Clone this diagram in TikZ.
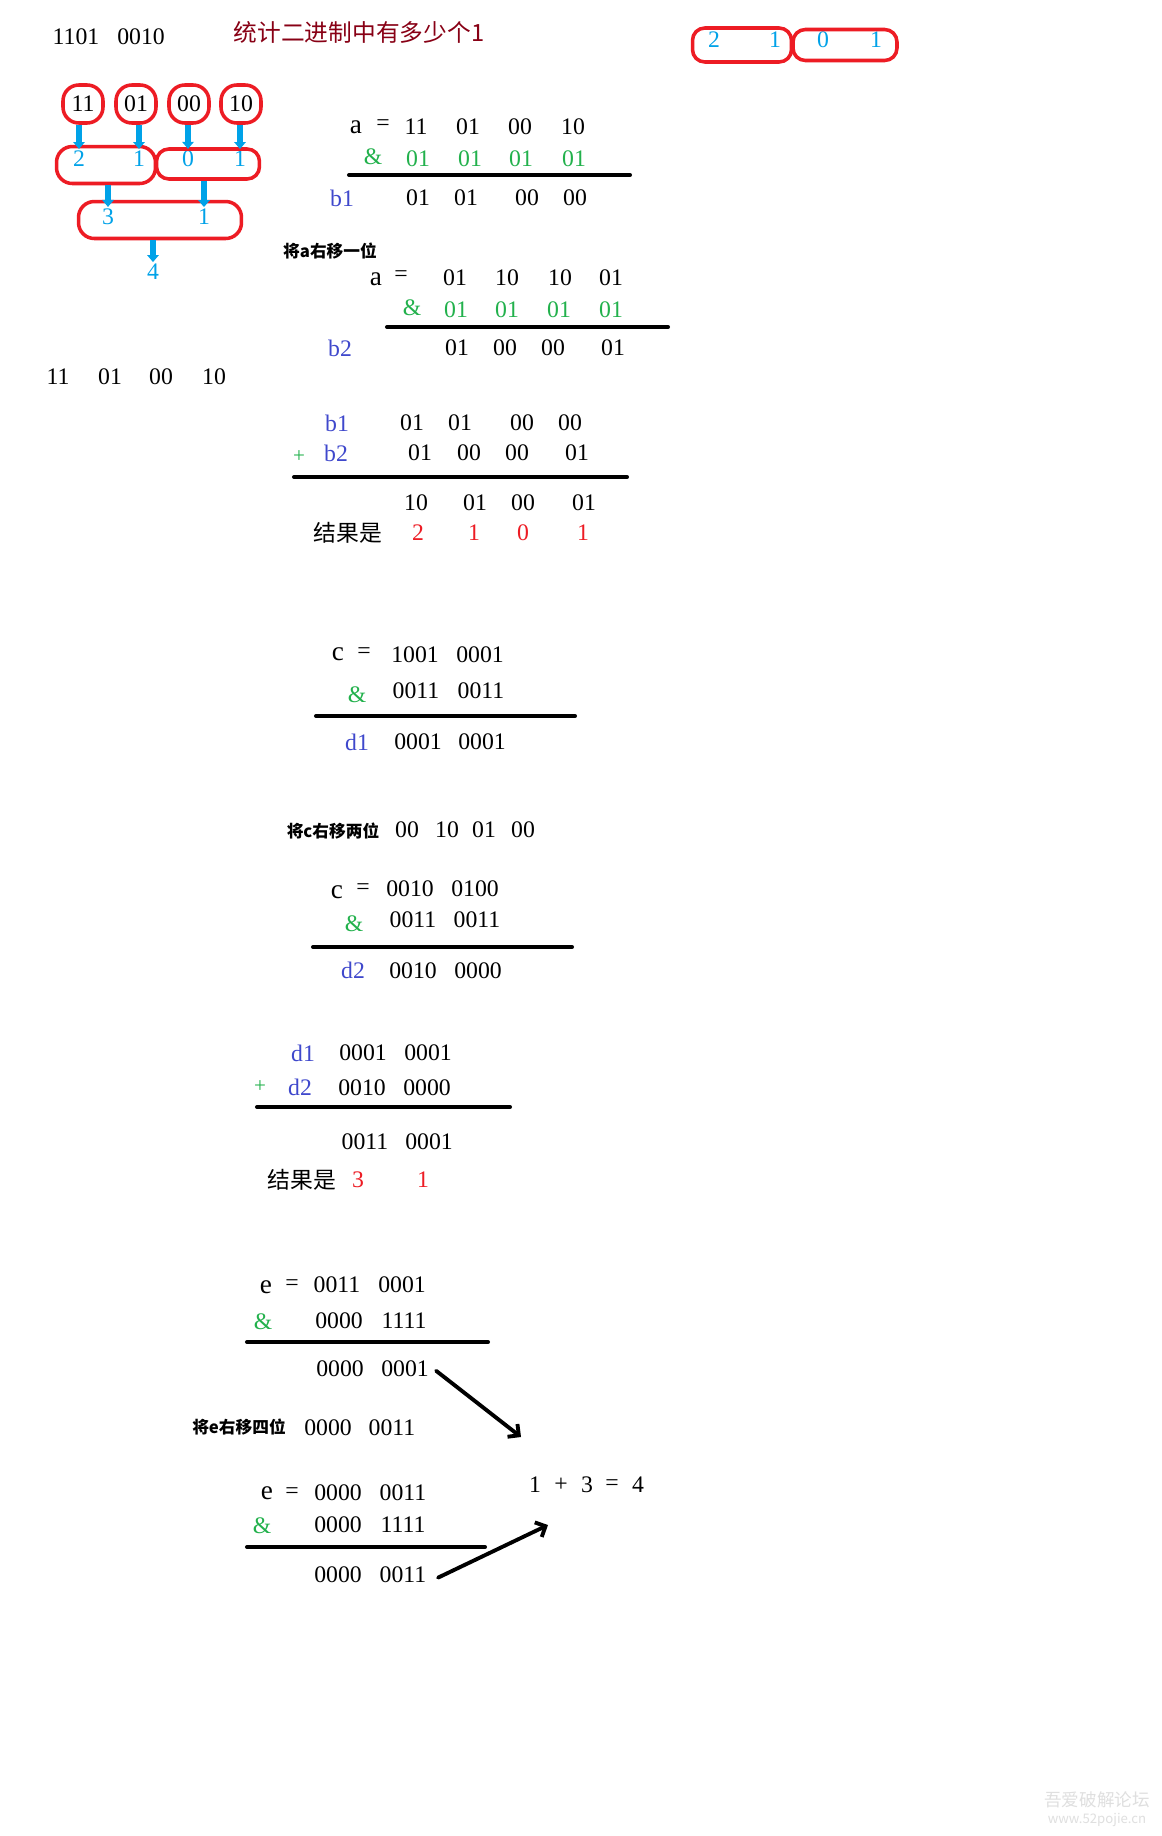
\documentclass[tikz,border=0pt]{standalone}
\usepackage{fontspec}
\setmainfont{Liberation Serif}
\newfontfamily\cjk{Noto Sans CJK SC}
\usepackage{xcolor}
\usepackage{tikz}
\usetikzlibrary{arrows.meta}

\definecolor{paintred}{RGB}{237,28,36}
\definecolor{paintblue}{RGB}{0,162,232}
\definecolor{paintgreen}{RGB}{34,177,76}
\definecolor{paintindigo}{RGB}{63,72,204}
\definecolor{paintmaroon}{RGB}{136,0,21}

\begin{document}
\begin{tikzpicture}[x=0.02cm, y=-0.02cm, every node/.style={inner sep=0pt}]
  % Styles
  \tikzset{
    num/.style={font=\fontsize{13.5}{16}\selectfont},
    letter/.style={font=\fontsize{15.5}{18}\selectfont},
    andop/.style={num, text=paintgreen},
    mask/.style={num, text=paintgreen},
    plusop/.style={text=paintgreen, font=\fontsize{12}{14}\selectfont},
    var/.style={num, text=paintindigo},
    result/.style={num, text=paintred},
    tally/.style={num, text=paintblue},
    heading/.style={font=\cjk\bfseries\fontsize{9.5}{11}\selectfont},
    zh/.style={font=\cjk\fontsize{13}{15}\selectfont},
    ring/.style={draw=paintred, line width=2pt, rounded corners=7pt},
    bar/.style={line width=2.3pt, line cap=round},
    dropline/.style={draw=paintblue, line width=3pt, -{Triangle[length=4pt,width=6.5pt]}, shorten >=1pt},
    sum/.style={line width=2.2pt, line cap=round, line join=round, -{Straight Barb[angle=90:6.5pt]}}
  }
  \fill[white] (0,0) rectangle (1162,1836);
  \useasboundingbox (0,0) rectangle (1162,1836);

  % Title
  \node[num] (top1) at (76,37) {1101};
  \node[num] (top2) at (141,37) {0010};
  \node[zh, text=paintmaroon, font=\cjk\fontsize{13.5}{16}\selectfont] (title) at (359,32) {统计二进制中有多少个1};

  % Pair tree
  \foreach \x/\txt [count=\i] in {83/11, 136/01, 189/00, 241/10}
    \node[num, ring, rounded corners=9pt, minimum width=0.8cm, minimum height=0.76cm] (q\i) at (\x,104) {\txt};
  \foreach \x/\txt [count=\i] in {79/2, 139/1, 188/0, 240/1}
    \node[tally] (s\i) at (\x,159) {\txt};
  \node[ring, rounded corners=9pt, minimum width=1.98cm, minimum height=0.74cm] (p1) at (106,165) {};
  \node[ring, minimum width=2.06cm, minimum height=0.6cm] (p2) at (208,164) {};
  \foreach \i in {1,...,4}
    \draw[dropline] (s\i.north |- q\i.south) -- (s\i.north);
  \node[tally] (t1) at (108,217) {3};
  \node[tally] (t2) at (204,217) {1};
  \node[ring, rounded corners=9pt, minimum width=3.26cm, minimum height=0.74cm] (p3) at (160,220) {};
  \draw[dropline] (t1.north |- p1.south) -- (t1.north);
  \draw[dropline] (t2.north |- p2.south) -- (t2.north);
  \node[tally] (total) at (153,272) {4};
  \draw[dropline] (total.north |- p3.south) -- (total.north);

  % Pair counts, top right
  \foreach \x/\txt [count=\i] in {714/2, 775/1, 823/0, 876/1}
    \node[tally] (r\i) at (\x,40) {\txt};
  \node[ring, minimum width=1.98cm, minimum height=0.68cm] (rp1) at (742,45) {};
  \node[ring, minimum width=2.08cm, minimum height=0.62cm] (rp2) at (845,45) {};

  % a & 01010101
  \node[letter] (a1) at (356,127) {a};
  \node[num] (eq1) at (383,125) {=};
  \foreach \x/\txt [count=\i] in {416/11, 468/01, 520/00, 573/10}
    \node[num] (a1-\i) at (\x,127) {\txt};
  \node[andop] (and1) at (373,157) {\&};
  \foreach \x/\txt [count=\i] in {418/01, 470/01, 521/01, 574/01}
    \node[mask] (m1-\i) at (\x,159) {\txt};
  \draw[bar] (349,175) -- (630,175);
  \node[var] (b1) at (342,198) {b1};
  \foreach \x/\txt [count=\i] in {418/01, 466/01, 527/00, 575/00}
    \node[num] (b1-\i) at (\x,198) {\txt};

  % (a >> 1) & 01010101
  \node[heading] (shift1) at (330,251) {将a右移一位};
  \node[letter] (a2) at (376,279) {a};
  \node[num] (eq2) at (401,276) {=};
  \foreach \x/\txt [count=\i] in {455/01, 507/10, 560/10, 611/01}
    \node[num] (a2-\i) at (\x,278) {\txt};
  \node[andop] (and2) at (412,308) {\&};
  \foreach \x/\txt [count=\i] in {456/01, 507/01, 559/01, 611/01}
    \node[mask] (m2-\i) at (\x,310) {\txt};
  \draw[bar] (387,327) -- (668,327);
  \node[var] (b2) at (340,348) {b2};
  \foreach \x/\txt [count=\i] in {457/01, 505/00, 553/00, 613/01}
    \node[num] (b2-\i) at (\x,348) {\txt};

  \foreach \x/\txt [count=\i] in {58/11, 110/01, 161/00, 214/10}
    \node[num] (pair\i) at (\x,377) {\txt};

  % b1 + b2
  \node[var] (b1s) at (337,423) {b1};
  \foreach \x/\txt [count=\i] in {412/01, 460/01, 522/00, 570/00}
    \node[num] (c1-\i) at (\x,423) {\txt};
  \node[plusop] (plus1) at (299,457) {+};
  \node[var] (b2s) at (336,453) {b2};
  \foreach \x/\txt [count=\i] in {420/01, 469/00, 517/00, 577/01}
    \node[num] (c2-\i) at (\x,453) {\txt};
  \draw[bar] (294,477) -- (627,477);
  \foreach \x/\txt [count=\i] in {416/10, 475/01, 523/00, 584/01}
    \node[num] (c3-\i) at (\x,503) {\txt};
  \node[zh] (res1) at (348,533) {结果是};
  \foreach \x/\txt [count=\i] in {418/2, 474/1, 523/0, 583/1}
    \node[result] (c4-\i) at (\x,533) {\txt};

  % c & 00110011
  \node[letter] (c1) at (338,654) {c};
  \node[num] (eq3) at (364,653) {=};
  \node[num] (d1a) at (415,655) {1001};
  \node[num] (d1b) at (480,655) {0001};
  \node[andop] (and3) at (357,695) {\&};
  \node[num] (m3a) at (416,691) {0011};
  \node[num] (m3b) at (481,691) {0011};
  \draw[bar] (316,716) -- (575,716);
  \node[var] (d1) at (357,742) {d1};
  \node[num] (d1r1) at (418,742) {0001};
  \node[num] (d1r2) at (482,742) {0001};

  % (c >> 2) & 00110011
  \node[heading] (shift2) at (333,831) {将c右移两位};
  \foreach \x/\txt [count=\i] in {407/00, 447/10, 484/01, 523/00}
    \node[num] (sh2-\i) at (\x,830) {\txt};
  \node[letter] (c2) at (337,892) {c};
  \node[num] (eq4) at (363,889) {=};
  \node[num] (e1a) at (410,889) {0010};
  \node[num] (e1b) at (475,889) {0100};
  \node[andop] (and4) at (354,924) {\&};
  \node[num] (m4a) at (413,920) {0011};
  \node[num] (m4b) at (477,920) {0011};
  \draw[bar] (313,947) -- (572,947);
  \node[var] (d2) at (353,970) {d2};
  \node[num] (d2r1) at (413,971) {0010};
  \node[num] (d2r2) at (478,971) {0000};

  % d1 + d2
  \node[var] (d1s) at (303,1053) {d1};
  \node[num] (f1a) at (363,1053) {0001};
  \node[num] (f1b) at (428,1053) {0001};
  \node[plusop] (plus2) at (260,1087) {+};
  \node[var] (d2s) at (300,1087) {d2};
  \node[num] (f2a) at (362,1088) {0010};
  \node[num] (f2b) at (427,1088) {0000};
  \draw[bar] (257,1107) -- (510,1107);
  \node[num] (f3a) at (365,1142) {0011};
  \node[num] (f3b) at (429,1142) {0001};
  \node[zh] (res2) at (302,1180) {结果是};
  \node[result] (f4a) at (358,1180) {3};
  \node[result] (f4b) at (423,1180) {1};

  % e & 00001111
  \node[letter] (e1) at (266,1287) {e};
  \node[num] (eq5) at (292,1285) {=};
  \node[num] (g1a) at (337,1285) {0011};
  \node[num] (g1b) at (402,1285) {0001};
  \node[andop] (and5) at (263,1322) {\&};
  \node[num] (g2a) at (339,1321) {0000};
  \node[num] (g2b) at (404,1321) {1111};
  \draw[bar] (247,1342) -- (488,1342);
  \node[num] (g3a) at (340,1369) {0000};
  \node[num] (g3b) at (405,1369) {0001};

  % (e >> 4) & 00001111
  \node[heading] (shift3) at (239,1427) {将e右移四位};
  \node[num] (sh3a) at (328,1428) {0000};
  \node[num] (sh3b) at (392,1428) {0011};
  \node[letter] (e2) at (267,1493) {e};
  \node[num] (eq6) at (292,1493) {=};
  \node[num] (h1a) at (338,1493) {0000};
  \node[num] (h1b) at (403,1493) {0011};
  \node[andop] (and6) at (262,1526) {\&};
  \node[num] (h2a) at (338,1525) {0000};
  \node[num] (h2b) at (403,1525) {1111};
  \draw[bar] (247,1547) -- (485,1547);
  \node[num] (h3a) at (338,1575) {0000};
  \node[num] (h3b) at (403,1575) {0011};

  % 1 + 3 = 4
  \foreach \x/\txt [count=\i] in {535/1, 561/+, 587/3, 612/=, 638/4}
    \node[num] (fin\i) at (\x,1485) {\txt};
  \coordinate (tip1) at (521,1437);
  \coordinate (tip2) at (548,1525);
  \draw[sum] ([xshift=4pt,yshift=-1pt]g3b.east) -- (tip1);
  \draw[sum] ([xshift=6.5pt,yshift=-1.5pt]h3b.east) -- (tip2);

  % Watermark
  \node[font=\cjk\fontsize{10}{12}\selectfont, text=gray!25] (wm1) at (1097,1800) {吾爱破解论坛};
  \node[font=\cjk\fontsize{7.5}{9}\selectfont, text=gray!25] (wm2) at (1097,1820) {www.52pojie.cn};
\end{tikzpicture}
\end{document}
